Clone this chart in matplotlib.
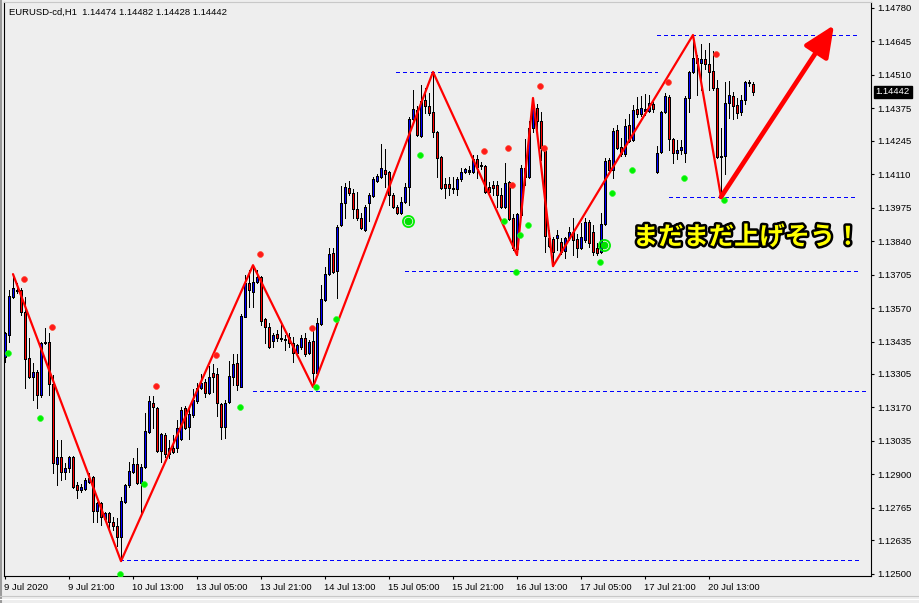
import matplotlib
matplotlib.use('Agg')
import matplotlib.pyplot as plt
import matplotlib.patheffects as pe
import matplotlib.transforms as mtrans
from matplotlib.patches import FancyArrowPatch
from matplotlib.lines import Line2D
import numpy as np

# ---------------- data ----------------
symbol = "EURUSD-cd,H1"

opens = [1.13372, 1.13461, 1.13614, 1.13643, 1.13643, 1.13554, 1.13368, 1.13292, 1.13312, 1.13219,
         1.13429, 1.13433, 1.13264, 1.12941, 1.12969, 1.12909, 1.12925, 1.12969, 1.12856, 1.12836,
         1.12840, 1.12868, 1.12888, 1.12751, 1.12784, 1.12719, 1.12743, 1.12707, 1.12691, 1.12646,
         1.12788, 1.12856, 1.12909, 1.12941, 1.12864, 1.12929, 1.13070, 1.13187, 1.13167, 1.12993,
         1.13058, 1.12981, 1.13005, 1.13005, 1.13042, 1.13167, 1.13090, 1.13138, 1.13195, 1.13247,
         1.13272, 1.13227, 1.13308, 1.13304, 1.13183, 1.13090, 1.13191, 1.13292, 1.13348, 1.13252,
         1.13534, 1.13671, 1.13635, 1.13675, 1.13695, 1.13526, 1.13493, 1.13437, 1.13465, 1.13449,
         1.13445, 1.13453, 1.13429, 1.13388, 1.13413, 1.13449, 1.13388, 1.13437, 1.13308, 1.13506,
         1.13602, 1.13707, 1.13792, 1.13719, 1.13905, 1.13994, 1.14054, 1.14034, 1.13969, 1.13933,
         1.13885, 1.13994, 1.14022, 1.14082, 1.14098, 1.14127, 1.14119, 1.14026, 1.13977, 1.13953,
         1.13998, 1.14058, 1.14332, 1.14369, 1.14264, 1.14409, 1.14385, 1.14360, 1.14280, 1.14179,
         1.14070, 1.14070, 1.14054, 1.14050, 1.14090, 1.14119, 1.14119, 1.14119, 1.14171, 1.14147,
         1.14143, 1.14058, 1.14066, 1.14066, 1.14026, 1.13977, 1.14078, 1.13933, 1.13808, 1.13945,
         1.14135, 1.14098, 1.14296, 1.14377, 1.14324, 1.14215, 1.13852, 1.13848, 1.13852, 1.13836,
         1.13800, 1.13852, 1.13876, 1.13848, 1.13812, 1.13844, 1.13917, 1.13876, 1.13812, 1.13796,
         1.13909, 1.14167, 1.14127, 1.14288, 1.14219, 1.14191, 1.14308, 1.14248, 1.14373, 1.14352,
         1.14373, 1.14365, 1.14393, 1.14119, 1.14199, 1.14361, 1.14421, 1.14252, 1.14195, 1.14207,
         1.14195, 1.14417, 1.14522, 1.14578, 1.14558, 1.14574, 1.14554, 1.14526, 1.14457, 1.14179,
         1.14183, 1.14397, 1.14425, 1.14389, 1.14361, 1.14409, 1.14482, 1.14474]

highs = [1.13473, 1.13643, 1.13707, 1.13671, 1.13651, 1.13614, 1.13449, 1.13348, 1.13320, 1.13433,
         1.13489, 1.13469, 1.13300, 1.13038, 1.13038, 1.12945, 1.12973, 1.12973, 1.12868, 1.12860,
         1.12884, 1.12905, 1.12892, 1.12788, 1.12788, 1.12747, 1.12747, 1.12727, 1.12723, 1.12808,
         1.12860, 1.12949, 1.12965, 1.13005, 1.12941, 1.13147, 1.13215, 1.13215, 1.13171, 1.13066,
         1.13066, 1.13038, 1.13058, 1.13118, 1.13171, 1.13175, 1.13163, 1.13243, 1.13268, 1.13304,
         1.13284, 1.13336, 1.13344, 1.13328, 1.13187, 1.13199, 1.13356, 1.13384, 1.13384, 1.13546,
         1.13703, 1.13723, 1.13743, 1.13723, 1.13699, 1.13530, 1.13510, 1.13469, 1.13481, 1.13510,
         1.13461, 1.13469, 1.13453, 1.13425, 1.13461, 1.13469, 1.13441, 1.13493, 1.13530, 1.13663,
         1.13735, 1.13812, 1.13812, 1.13905, 1.14062, 1.14074, 1.14082, 1.14050, 1.14038, 1.13953,
         1.13985, 1.14034, 1.14098, 1.14110, 1.14232, 1.14211, 1.14123, 1.14034, 1.13985, 1.14018,
         1.14074, 1.14340, 1.14449, 1.14385, 1.14469, 1.14457, 1.14437, 1.14522, 1.14284, 1.14183,
         1.14094, 1.14098, 1.14098, 1.14098, 1.14135, 1.14135, 1.14143, 1.14187, 1.14187, 1.14159,
         1.14147, 1.14078, 1.14082, 1.14082, 1.14054, 1.14155, 1.14082, 1.13949, 1.13953, 1.14147,
         1.14252, 1.14324, 1.14417, 1.14393, 1.14361, 1.14219, 1.13885, 1.13856, 1.13885, 1.13852,
         1.13856, 1.13897, 1.13933, 1.13868, 1.13913, 1.13933, 1.13925, 1.13905, 1.13832, 1.13953,
         1.14175, 1.14175, 1.14296, 1.14308, 1.14256, 1.14332, 1.14352, 1.14389, 1.14421, 1.14425,
         1.14433, 1.14429, 1.14401, 1.14223, 1.14365, 1.14437, 1.14429, 1.14256, 1.14248, 1.14248,
         1.14425, 1.14526, 1.14671, 1.14590, 1.14635, 1.14610, 1.14639, 1.14606, 1.14489, 1.14296,
         1.14482, 1.14485, 1.14441, 1.14417, 1.14429, 1.14485, 1.14490, 1.14482]

lows = [1.13352, 1.13433, 1.13610, 1.13631, 1.13542, 1.13247, 1.13288, 1.13199, 1.13167, 1.13211,
        1.13425, 1.13219, 1.12905, 1.12856, 1.12876, 1.12880, 1.12909, 1.12844, 1.12804, 1.12828,
        1.12836, 1.12864, 1.12707, 1.12707, 1.12695, 1.12715, 1.12683, 1.12675, 1.12610, 1.12550,
        1.12784, 1.12848, 1.12905, 1.12860, 1.12735, 1.12925, 1.13066, 1.13086, 1.12989, 1.12949,
        1.12969, 1.12965, 1.12985, 1.12989, 1.13038, 1.13082, 1.13042, 1.13130, 1.13187, 1.13243,
        1.13211, 1.13223, 1.13231, 1.13134, 1.13042, 1.13046, 1.13187, 1.13260, 1.13239, 1.13252,
        1.13534, 1.13574, 1.13574, 1.13671, 1.13501, 1.13429, 1.13409, 1.13413, 1.13437, 1.13437,
        1.13401, 1.13413, 1.13352, 1.13384, 1.13405, 1.13376, 1.13384, 1.13252, 1.13304, 1.13501,
        1.13598, 1.13703, 1.13711, 1.13610, 1.13901, 1.13933, 1.14026, 1.13933, 1.13925, 1.13889,
        1.13881, 1.13921, 1.14018, 1.14078, 1.14094, 1.14058, 1.13985, 1.13973, 1.13949, 1.13949,
        1.13994, 1.13985, 1.14328, 1.14264, 1.14260, 1.14356, 1.14348, 1.14260, 1.14098, 1.14050,
        1.14014, 1.14026, 1.14034, 1.14026, 1.14082, 1.14115, 1.14110, 1.14115, 1.14094, 1.14131,
        1.14034, 1.14026, 1.14026, 1.13977, 1.13973, 1.13973, 1.13925, 1.13804, 1.13784, 1.13937,
        1.14066, 1.14094, 1.14280, 1.14260, 1.14167, 1.13796, 1.13816, 1.13739, 1.13804, 1.13788,
        1.13772, 1.13844, 1.13784, 1.13776, 1.13808, 1.13836, 1.13816, 1.13784, 1.13784, 1.13792,
        1.13905, 1.14115, 1.14094, 1.14211, 1.14183, 1.14183, 1.14240, 1.14244, 1.14340, 1.14344,
        1.14348, 1.14361, 1.14361, 1.14115, 1.14195, 1.14356, 1.14207, 1.14155, 1.14171, 1.14191,
        1.14159, 1.14361, 1.14518, 1.14429, 1.14449, 1.14534, 1.14449, 1.14449, 1.14175, 1.14018,
        1.14111, 1.14336, 1.14332, 1.14336, 1.14348, 1.14393, 1.14465, 1.14428]

closes = [1.13469, 1.13618, 1.13651, 1.13639, 1.13554, 1.13364, 1.13292, 1.13312, 1.13219, 1.13429,
          1.13433, 1.13264, 1.12945, 1.12969, 1.12909, 1.12925, 1.12969, 1.12848, 1.12836, 1.12848,
          1.12876, 1.12884, 1.12751, 1.12784, 1.12727, 1.12743, 1.12707, 1.12691, 1.12646, 1.12792,
          1.12856, 1.12913, 1.12941, 1.12864, 1.12929, 1.13074, 1.13195, 1.13171, 1.12993, 1.13062,
          1.12981, 1.13005, 1.12989, 1.13086, 1.13159, 1.13086, 1.13143, 1.13199, 1.13247, 1.13268,
          1.13227, 1.13292, 1.13292, 1.13187, 1.13090, 1.13187, 1.13296, 1.13344, 1.13260, 1.13538,
          1.13671, 1.13643, 1.13675, 1.13695, 1.13518, 1.13493, 1.13413, 1.13461, 1.13449, 1.13447,
          1.13443, 1.13429, 1.13388, 1.13421, 1.13449, 1.13384, 1.13433, 1.13308, 1.13510, 1.13606,
          1.13707, 1.13788, 1.13715, 1.13897, 1.13994, 1.14058, 1.14034, 1.13969, 1.13933, 1.13893,
          1.13977, 1.14026, 1.14090, 1.14102, 1.14135, 1.14110, 1.14026, 1.13977, 1.13953, 1.13998,
          1.14058, 1.14332, 1.14373, 1.14268, 1.14405, 1.14385, 1.14356, 1.14280, 1.14175, 1.14054,
          1.14054, 1.14054, 1.14050, 1.14090, 1.14119, 1.14131, 1.14127, 1.14171, 1.14139, 1.14143,
          1.14038, 1.14038, 1.14054, 1.14026, 1.13977, 1.14074, 1.13929, 1.13812, 1.13949, 1.14135,
          1.14098, 1.14296, 1.14377, 1.14324, 1.14215, 1.13860, 1.13820, 1.13796, 1.13864, 1.13796,
          1.13852, 1.13876, 1.13844, 1.13812, 1.13856, 1.13917, 1.13832, 1.13796, 1.13792, 1.13909,
          1.14163, 1.14127, 1.14284, 1.14215, 1.14191, 1.14304, 1.14244, 1.14369, 1.14352, 1.14377,
          1.14365, 1.14397, 1.14373, 1.14195, 1.14361, 1.14425, 1.14252, 1.14195, 1.14207, 1.14219,
          1.14417, 1.14522, 1.14578, 1.14558, 1.14574, 1.14554, 1.14522, 1.14457, 1.14179, 1.14183,
          1.14397, 1.14429, 1.14385, 1.14356, 1.14409, 1.14482, 1.14478, 1.14442]

# zigzag swing points (bar index, price)
zz_bars = [2, 29, 62, 77, 107, 128, 132, 137, 172, 179]
zz_prices = [1.13707, 1.12550, 1.13743, 1.13252, 1.14522, 1.13784, 1.14417, 1.13739, 1.14671, 1.14018]

# indicator dots
red_dot_bars = [5, 12, 38, 53, 64, 77, 120, 126, 127, 134, 135, 166, 178]
red_dot_prices = [1.13687, 1.13493, 1.13256, 1.13380, 1.13788, 1.13489, 1.14203, 1.14215,
                  1.14066, 1.14465, 1.14215, 1.14481, 1.14594]
green_dot_bars = [1, 9, 29, 35, 59, 78, 83, 104, 125, 128, 129, 131, 149, 152, 157, 170, 180]
green_dot_prices = [1.13388, 1.13126, 1.12498, 1.12860, 1.13171, 1.13252, 1.13526, 1.14187,
                    1.13921, 1.13715, 1.13864, 1.13905, 1.13756, 1.14034, 1.14127, 1.14094, 1.14006]
ring_bars = [101, 150]
ring_prices = [1.13921, 1.13824]

# horizontal dashed levels: (price, from bar, to bar)
levels = [(1.14522, 97.75, 163), (1.14671, 163, 213), (1.14018, 166, 213),
          (1.13720, 100, 157.5), (1.13720, 158, 213.75),
          (1.13235, 62, 140), (1.13235, 140.75, 215), (1.12554, 28.75, 213.75)]

# projected arrow (bar, price)
arrow_start = (179, 1.14018)
arrow_end = (207.25, 1.14711)

annotation_text = "まだまだ上げそう！"
annotation_pos = (157, 1.13856)

ytick_values = [1.14780, 1.14645, 1.14510, 1.14375, 1.14245, 1.14110, 1.13975, 1.13840, 1.13705,
                1.13570, 1.13435, 1.13305, 1.13170, 1.13035, 1.12900, 1.12765, 1.12635, 1.12500]
xtick_bars = [0, 16, 32, 48, 64, 80, 96, 112, 128, 144, 160, 176]
xtick_labels = ["9 Jul 2020", "9 Jul 21:00", "10 Jul 13:00", "13 Jul 05:00", "13 Jul 21:00",
                "14 Jul 13:00", "15 Jul 05:00", "15 Jul 21:00", "16 Jul 13:00", "17 Jul 05:00",
                "17 Jul 21:00", "20 Jul 13:00"]

# ---------------- drawing ----------------
BG = '#EEEEEE'
W, H = 919, 603
FONT = ['Liberation Sans', 'DejaVu Sans']
FS = 6.8
PX = 72 / 100  # one pixel in points

fig = plt.figure(figsize=(W / 100, H / 100), dpi=100, facecolor=BG)
ax_h_px = 576 - 2
ax = fig.add_axes([4 / W, 1 - 576 / H, (871 - 4) / W, ax_h_px / H])
ax.set_facecolor(BG)
ax.set_xlim(-0.25, 216.5)
ax.set_ylim(1.12490, 1.14804)

ylo, yhi = ax.get_ylim()
px_price = (yhi - ylo) / ax_h_px

o = np.array(opens); h = np.array(highs); l = np.array(lows); c = np.array(closes)
idx = np.arange(len(o))
up = c >= o
body_lo = np.minimum(o, c)
body_hi = np.maximum(np.maximum(o, c), body_lo + px_price)

# wicks
ax.vlines(idx, l, h, color='black', lw=PX, zorder=2, antialiased=False)
# body outline: black, 3 px wide
ax.vlines(idx, body_lo, body_hi, color='black', lw=3 * PX, zorder=3, antialiased=False)
# body fill: 1 px wide coloured core
fill_lo = body_lo + px_price
fill_hi = body_hi - px_price
mask = fill_hi > fill_lo
ax.vlines(idx[mask], fill_lo[mask], fill_hi[mask],
          colors=np.where(up, '#0000FF', '#FF0000')[mask], lw=PX, zorder=4, antialiased=False)

for price, x0, x1 in levels:
    ax.hlines(price, x0, x1, colors='#0000FF', linestyles=(0, (4, 3)), lw=PX, zorder=1,
              antialiased=False)

ax.plot(zz_bars, zz_prices, color='#FF0000', lw=1.6, zorder=5, solid_capstyle='round')

dot_off = -0.25
ax.plot(np.array(red_dot_bars) + dot_off, red_dot_prices, 'o', color='#FF1A1A', ms=4.2,
        mec='#FF4A30', mew=0.5, zorder=6, ls='none')
ax.plot(np.array(green_dot_bars) + dot_off, green_dot_prices, 'o', color='#00F000', ms=4.2,
        mec='#30FF30', mew=0.5, zorder=6, ls='none')
ax.plot(np.array(ring_bars) + dot_off, ring_prices, 'o', mfc='none', mec='#00F000', ms=8,
        mew=1.3, zorder=6, ls='none')
ax.plot(np.array(ring_bars) + dot_off, ring_prices, 'o', color='#00E000', ms=4.5, zorder=6, ls='none')

arr = FancyArrowPatch(arrow_start, arrow_end, arrowstyle='-|>,head_length=1.9,head_width=0.85',
                      mutation_scale=10, lw=3.4, color='#FF0000', shrinkA=0, shrinkB=0, zorder=7)
ax.add_patch(arr)

ax.text(annotation_pos[0], annotation_pos[1], annotation_text, fontsize=18.2,
        family=['Noto Sans CJK JP', 'DejaVu Sans'], fontweight='bold', color='#FFFF00',
        va='center', ha='left', zorder=8,
        path_effects=[pe.withStroke(linewidth=3.6, foreground='black')])

# axes styling
for side in ['left', 'bottom', 'right']:
    ax.spines[side].set_color('black')
    ax.spines[side].set_linewidth(0.8)
ax.spines['top'].set_color('#C8C8C8')
ax.spines['top'].set_linewidth(0.8)

ax.yaxis.tick_right()
ax.set_yticks(ytick_values)
ax.set_yticklabels([f'{v:.5f}' for v in ytick_values], fontsize=FS, family=FONT)
ax.tick_params(axis='y', direction='out', length=2.5, width=0.8, pad=1.8, colors='black')

ax.set_xticks(xtick_bars)
ax.set_xticklabels(xtick_labels, fontsize=FS, family=FONT, ha='left')
ax.tick_params(axis='x', direction='out', length=2.5, width=0.8, pad=2.2, colors='black')
for lbl in ax.get_xticklabels():
    lbl.set_transform(lbl.get_transform() + mtrans.ScaledTranslation(-1 / 100, 0, fig.dpi_scale_trans))

# current price tag
ax.annotate(f'{closes[-1]:.5f}', xy=(1, closes[-1]), xycoords=('axes fraction', 'data'),
            xytext=(3.4, 0), textcoords='offset points', va='center', ha='left',
            color='white', fontsize=FS, family=FONT,
            bbox=dict(boxstyle='square,pad=0.18', fc='black', ec='black'), zorder=9,
            annotation_clip=False)

# header
fig.text(9 / W, 1 - 12 / H,
         f'{symbol}  {opens[-1]:.5f} {highs[-1]:.5f} {lows[-1]:.5f} {closes[-1]:.5f}',
         fontsize=FS, family=FONT, va='center', ha='left', color='black')

# window borders
fig.add_artist(Line2D([1 / W, 1 / W], [0, 1], color='#9A9A9A', lw=1.5))
fig.add_artist(Line2D([0, 1], [1 - 596 / H, 1 - 596 / H], color='#C8C8C8', lw=0.8))
fig.add_artist(Line2D([0, 1], [1 - 599 / H, 1 - 599 / H], color='#FFFFFF', lw=0.8))

fig.savefig('out.png', dpi=100, facecolor=BG)
